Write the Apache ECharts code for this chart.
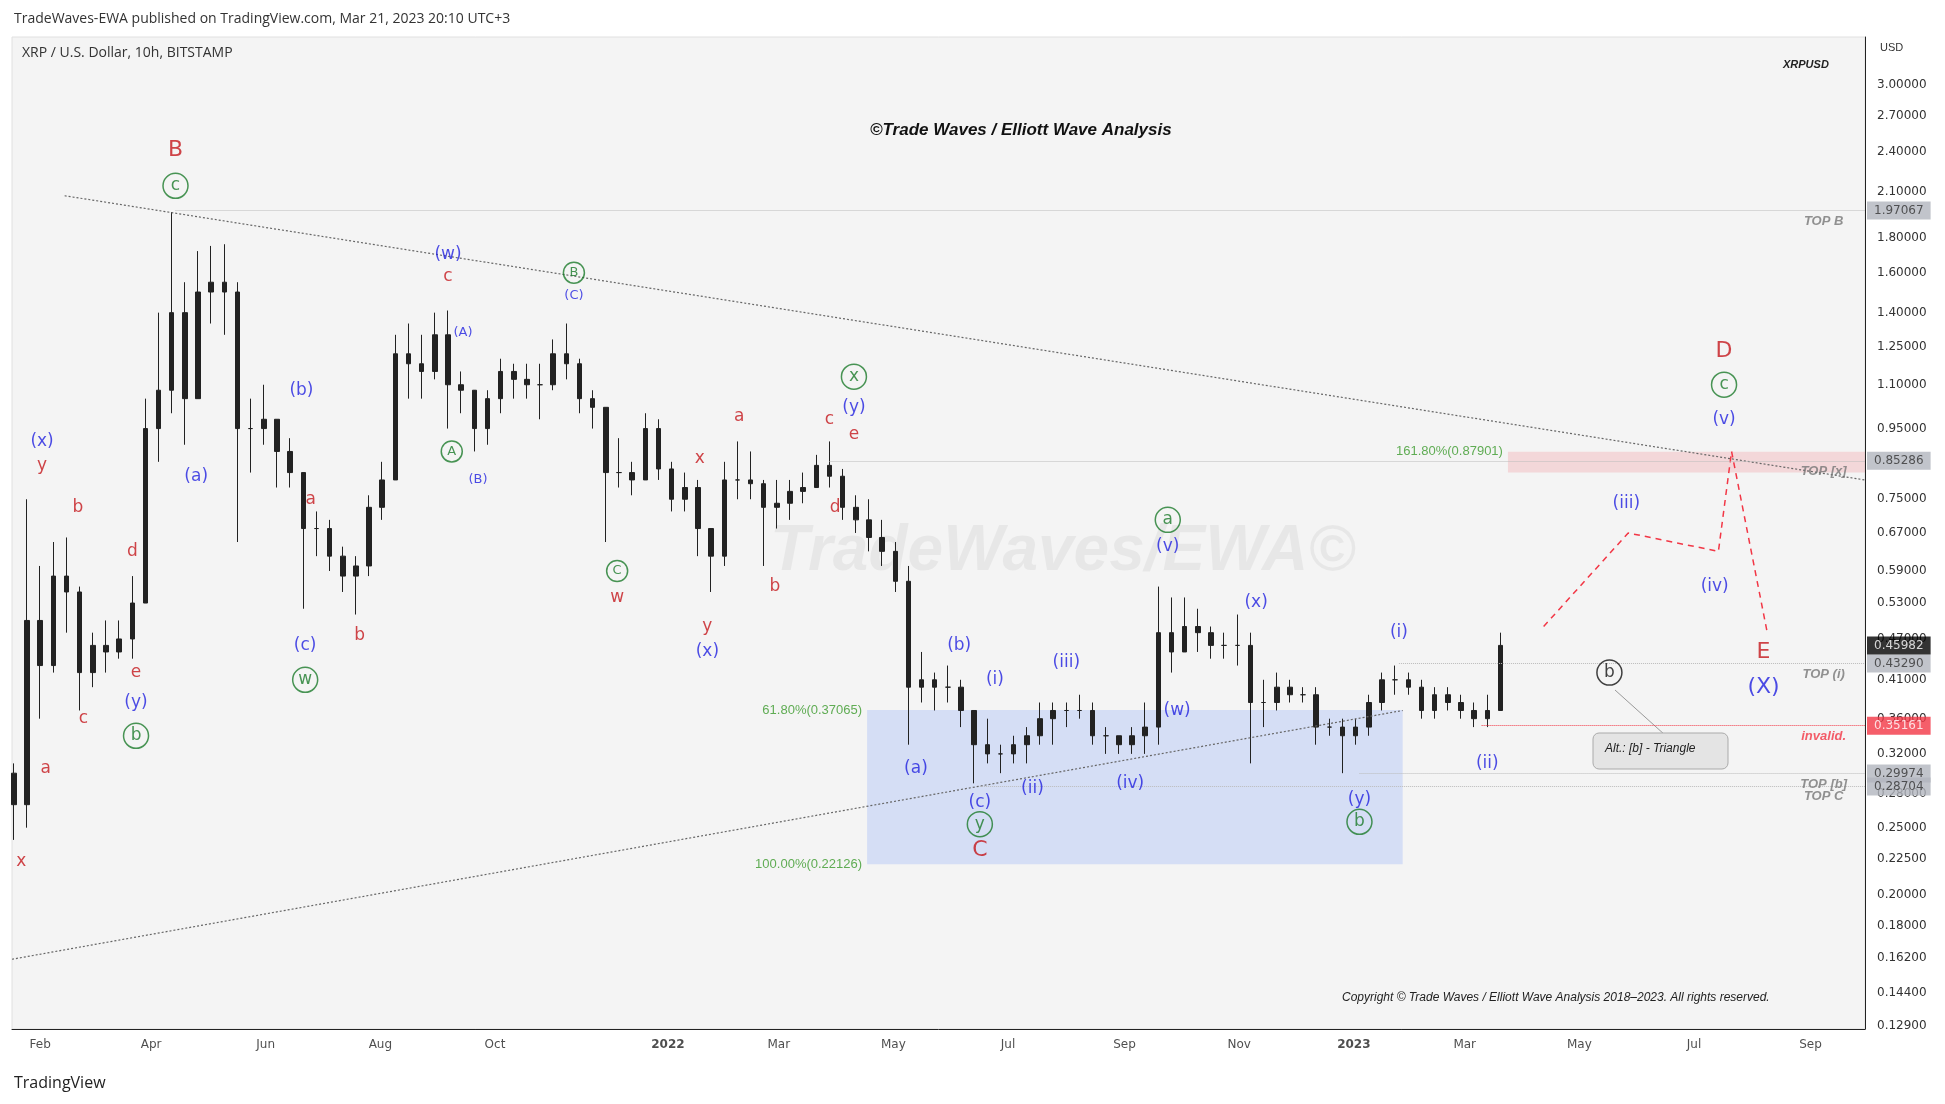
<!DOCTYPE html>
<html><head><meta charset="utf-8">
<script src="https://cdn.jsdelivr.net/npm/echarts@6/dist/echarts.min.js"></script>
<style>html,body{margin:0;padding:0;background:#fff}#c{width:1945px;height:1104px}</style>
</head><body><div id="c"></div>
<script>
// weekly bars (Monday start): [date, close, low, high]; open = previous close
const weeks = [
  ['2021-01-18',0.27,0.24,0.31],['2021-01-25',0.50,0.25,0.75],['2021-02-01',0.43,0.36,0.60],['2021-02-08',0.58,0.42,0.65],
  ['2021-02-15',0.55,0.48,0.66],['2021-02-22',0.42,0.37,0.56],['2021-03-01',0.46,0.40,0.48],['2021-03-08',0.45,0.42,0.50],
  ['2021-03-15',0.47,0.44,0.50],['2021-03-22',0.53,0.44,0.58],['2021-03-29',0.95,0.55,1.05],['2021-04-05',1.08,0.85,1.40],
  ['2021-04-12',1.40,1.00,1.96],['2021-04-19',1.05,0.90,1.55],['2021-04-26',1.50,1.05,1.72],['2021-05-03',1.55,1.35,1.75],
  ['2021-05-10',1.50,1.30,1.76],['2021-05-17',0.95,0.65,1.55],['2021-05-24',0.95,0.82,1.05],['2021-05-31',0.98,0.90,1.10],
  ['2021-06-07',0.88,0.78,0.98],['2021-06-14',0.82,0.78,0.92],['2021-06-21',0.68,0.52,0.82],['2021-06-28',0.68,0.62,0.72],
  ['2021-07-05',0.62,0.59,0.70],['2021-07-12',0.58,0.55,0.64],['2021-07-19',0.60,0.51,0.62],['2021-07-26',0.73,0.58,0.76],
  ['2021-08-02',0.80,0.70,0.85],['2021-08-09',1.22,0.80,1.30],['2021-08-16',1.18,1.05,1.35],['2021-08-23',1.15,1.05,1.30],
  ['2021-08-30',1.30,1.12,1.40],['2021-09-06',1.10,0.95,1.41],['2021-09-13',1.08,1.00,1.15],['2021-09-20',0.95,0.88,1.05],
  ['2021-09-27',1.05,0.90,1.08],['2021-10-04',1.15,1.00,1.20],['2021-10-11',1.12,1.05,1.18],['2021-10-18',1.10,1.05,1.18],
  ['2021-10-25',1.10,0.98,1.18],['2021-11-01',1.22,1.08,1.28],['2021-11-08',1.18,1.12,1.35],['2021-11-15',1.05,1.00,1.20],
  ['2021-11-22',1.02,0.95,1.08],['2021-11-29',0.82,0.65,1.02],['2021-12-06',0.82,0.78,0.92],['2021-12-13',0.80,0.76,0.85],
  ['2021-12-20',0.95,0.80,1.00],['2021-12-27',0.83,0.80,0.98],['2022-01-03',0.75,0.72,0.85],['2022-01-10',0.78,0.72,0.82],
  ['2022-01-17',0.68,0.62,0.80],['2022-01-24',0.62,0.55,0.65],['2022-01-31',0.80,0.60,0.85],['2022-02-07',0.80,0.75,0.91],
  ['2022-02-14',0.79,0.75,0.88],['2022-02-21',0.73,0.60,0.80],['2022-02-28',0.74,0.68,0.80],['2022-03-07',0.77,0.70,0.80],
  ['2022-03-14',0.78,0.74,0.82],['2022-03-21',0.84,0.78,0.87],['2022-03-28',0.81,0.78,0.91],['2022-04-04',0.73,0.70,0.83],
  ['2022-04-11',0.70,0.67,0.76],['2022-04-18',0.66,0.63,0.75],['2022-04-25',0.63,0.60,0.70],['2022-05-02',0.57,0.55,0.65],
  ['2022-05-09',0.40,0.33,0.60],['2022-05-16',0.41,0.38,0.45],['2022-05-23',0.40,0.37,0.42],['2022-05-30',0.40,0.38,0.43],
  ['2022-06-06',0.37,0.35,0.41],['2022-06-13',0.33,0.29,0.37],['2022-06-20',0.32,0.31,0.36],['2022-06-27',0.32,0.30,0.33],
  ['2022-07-04',0.33,0.31,0.34],['2022-07-11',0.34,0.31,0.35],['2022-07-18',0.36,0.33,0.38],['2022-07-25',0.37,0.33,0.38],
  ['2022-08-01',0.37,0.35,0.38],['2022-08-08',0.37,0.36,0.39],['2022-08-15',0.34,0.33,0.38],['2022-08-22',0.34,0.32,0.35],
  ['2022-08-29',0.33,0.32,0.34],['2022-09-05',0.34,0.32,0.35],['2022-09-12',0.35,0.32,0.38],['2022-09-19',0.48,0.33,0.56],
  ['2022-09-26',0.45,0.42,0.54],['2022-10-03',0.49,0.45,0.54],['2022-10-10',0.48,0.45,0.52],['2022-10-17',0.46,0.44,0.49],
  ['2022-10-24',0.46,0.44,0.48],['2022-10-31',0.46,0.43,0.51],['2022-11-07',0.38,0.31,0.48],['2022-11-14',0.38,0.35,0.41],
  ['2022-11-21',0.40,0.37,0.42],['2022-11-28',0.39,0.38,0.41],['2022-12-05',0.39,0.38,0.40],['2022-12-12',0.35,0.33,0.40],
  ['2022-12-19',0.35,0.34,0.36],['2022-12-26',0.34,0.30,0.36],['2023-01-02',0.35,0.33,0.36],['2023-01-09',0.38,0.34,0.39],
  ['2023-01-16',0.41,0.37,0.42],['2023-01-23',0.41,0.39,0.43],['2023-01-30',0.40,0.39,0.42],['2023-02-06',0.37,0.36,0.41],
  ['2023-02-13',0.39,0.36,0.40],['2023-02-20',0.38,0.37,0.40],['2023-02-27',0.37,0.36,0.39],['2023-03-06',0.36,0.35,0.38],
  ['2023-03-13',0.37,0.35,0.39],['2023-03-20',0.46,0.37,0.48]
];
const firstOpen = 0.30;

const yTicks = [3.0,2.7,2.4,2.1,1.8,1.6,1.4,1.25,1.1,0.95,0.75,0.67,0.59,0.53,0.47,0.41,0.36,0.32,0.28,0.25,0.225,0.2,0.18,0.162,0.144,0.129];
const xTicks = ['2021-02-01','2021-04-01','2021-06-01','2021-08-01','2021-10-01','2022-01-01','2022-03-01','2022-05-01','2022-07-01','2022-09-01','2022-11-01','2023-01-01','2023-03-01','2023-05-01','2023-07-01','2023-09-01'];
const xTickText = ['Feb','Apr','Jun','Aug','Oct','2022','Mar','May','Jul','Sep','Nov','2023','Mar','May','Jul','Sep'];
const yMin = 0.1275, yMax = 3.52;

// horizontal levels: [price, start date, tag, tag colour, text colour, line colour]
const levels = [
  [1.97067,'2021-04-14','TOP B','#b2b5be','#333','#bbb'],
  [0.85286,'2022-03-28','TOP [x]','#b2b5be','#333','#bbb'],
  [0.4329,'2023-01-25','TOP (i)','#b2b5be','#333','#bbb'],
  [0.35161,'2023-03-10','invalid.','#f23645','#fff','#f23645'],
  [0.29974,'2023-01-04','TOP [b]','#b2b5be','#333','#bbb'],
  [0.28704,'2022-06-16','TOP C','#b2b5be','#333','#bbb']
];
const lastPrice = 0.45982;

const upperTrend = [['2021-02-14',2.07],['2023-09-30',0.80]];
const lowerTrend = [['2021-01-17',0.161],['2023-01-27',0.37]];
const projection = [['2023-04-12',0.49],['2023-05-27',0.67],['2023-07-14',0.63],['2023-07-21',0.88],['2023-08-09',0.48]];

const fibBox = [['2022-04-17',0.37065],['2023-01-27',0.22126]];
const targetBox = [['2023-03-24',0.87901],['2023-09-30',0.82]];

const R = '#c4161c', U = '#1f1fe0', G = '#1b7a2a', K = '#111';
// [date, price, text, colour, style] style: n normal, c circled, s small, sc small circled, b big
const labels = [
  ['2021-01-22',0.223,'x',R,'n'],['2021-02-02',0.91,'(x)',U,'n'],['2021-02-02',0.84,'y',R,'n'],
  ['2021-02-04',0.305,'a',R,'n'],['2021-02-21',0.73,'b',R,'n'],['2021-02-24',0.36,'c',R,'n'],
  ['2021-03-22',0.63,'d',R,'n'],['2021-03-24',0.42,'e',R,'n'],['2021-03-24',0.38,'(y)',U,'n'],['2021-03-24',0.34,'b',G,'c'],
  ['2021-04-14',2.41,'B',R,'b'],['2021-04-14',2.14,'c',G,'c'],['2021-04-25',0.81,'(a)',U,'n'],
  ['2021-06-20',1.08,'(b)',U,'n'],['2021-06-25',0.75,'a',R,'n'],['2021-06-22',0.46,'(c)',U,'n'],['2021-06-22',0.41,'w',G,'c'],
  ['2021-07-21',0.475,'b',R,'n'],['2021-09-06',1.70,'(w)',U,'n'],['2021-09-06',1.58,'c',R,'n'],
  ['2021-09-08',0.88,'A',G,'sc'],['2021-09-14',1.31,'(A)',U,'s'],['2021-09-22',0.80,'(B)',U,'s'],
  ['2021-11-12',1.60,'B',G,'sc'],['2021-11-12',1.48,'(C)',U,'s'],['2021-12-05',0.59,'C',G,'sc'],['2021-12-05',0.54,'w',R,'n'],
  ['2022-01-18',0.86,'x',R,'n'],['2022-01-22',0.49,'y',R,'n'],['2022-01-22',0.45,'(x)',U,'n'],
  ['2022-02-08',0.99,'a',R,'n'],['2022-02-27',0.56,'b',R,'n'],['2022-03-28',0.98,'c',R,'n'],['2022-03-31',0.73,'d',R,'n'],
  ['2022-04-10',1.13,'x',G,'c'],['2022-04-10',1.02,'(y)',U,'n'],['2022-04-10',0.93,'e',R,'n'],
  ['2022-05-13',0.305,'(a)',U,'n'],['2022-06-05',0.46,'(b)',U,'n'],['2022-06-16',0.272,'(c)',U,'n'],
  ['2022-06-16',0.253,'y',G,'c'],['2022-06-16',0.232,'C',R,'b'],
  ['2022-06-24',0.41,'(i)',U,'n'],['2022-07-14',0.285,'(ii)',U,'n'],['2022-08-01',0.435,'(iii)',U,'n'],['2022-09-04',0.29,'(iv)',U,'n'],
  ['2022-09-24',0.70,'a',G,'c'],['2022-09-24',0.64,'(v)',U,'n'],['2022-09-29',0.37,'(w)',U,'n'],['2022-11-10',0.53,'(x)',U,'n'],
  ['2023-01-04',0.275,'(y)',U,'n'],['2023-01-04',0.255,'b',G,'c'],['2023-01-25',0.48,'(i)',U,'n'],['2023-03-13',0.31,'(ii)',U,'n'],
  ['2023-05-17',0.42,'b',K,'c'],['2023-05-26',0.74,'(iii)',U,'n'],['2023-07-12',0.56,'(iv)',U,'n'],
  ['2023-07-17',1.23,'D',R,'b'],['2023-07-17',1.10,'c',G,'c'],['2023-07-17',0.98,'(v)',U,'n'],
  ['2023-08-07',0.45,'E',R,'b'],['2023-08-07',0.40,'(X)',U,'b']
];

const candles = [];
let prev = firstOpen;
weeks.forEach(w => { candles.push([w[0], prev, w[1], w[2], w[3]]); prev = w[1]; });

const labelData = labels.map(l => {
  const st = l[4];
  const size = st === 'b' ? 22 : (st[0] === 's' ? 13 : 17);
  const circ = st.indexOf('c') >= 0;
  const d = size + 8;
  const lab = {
    show: true, position: 'inside', color: l[3], fontSize: size,
    fontFamily: 'Verdana, DejaVu Sans, sans-serif',
    formatter: circ ? '{c|' + l[2] + '}' : l[2]
  };
  if (circ) lab.rich = { c: { color: l[3], fontSize: size, borderColor: l[3], borderWidth: 1.5, borderRadius: d, width: d, height: d, lineHeight: d, align: 'center' } };
  return { value: [l[0], l[1]], label: lab };
});

const tagFont = 'Verdana, DejaVu Sans, sans-serif';

const chart = echarts.init(document.getElementById('c'));
chart.setOption({
  animation: false,
  backgroundColor: '#fff',
  grid: { left: 12, right: 80, top: 37, bottom: 75, show: true, backgroundColor: '#f4f4f4', borderColor: '#e0e0e0' },
  xAxis: {
    type: 'time', min: '2021-01-17', max: '2023-09-30',
    axisLine: { lineStyle: { color: '#222' } }, axisTick: { show: false }, splitLine: { show: false },
    axisLabel: { show: false }
  },
  yAxis: {
    type: 'log', position: 'right', min: yMin, max: yMax,
    axisLine: { show: true, lineStyle: { color: '#222' } }, axisTick: { show: false }, splitLine: { show: false },
    axisLabel: { customValues: yTicks, formatter: v => v.toFixed(5), color: '#333', fontSize: 12, margin: 12, fontFamily: tagFont }
  },
  series: [
    {
      type: 'candlestick', data: candles, encode: { x: 0, y: [1, 2, 3, 4] },
      barMaxWidth: 5,
      itemStyle: { color: '#222', color0: '#222', borderColor: '#222', borderColor0: '#222', borderWidth: 1 }
    },
    {
      type: 'line', data: [], silent: true,
      markLine: {
        symbol: 'none', silent: true, label: { show: false },
        data: levels.map(l => [
          { coord: [l[1], l[0]], lineStyle: { color: l[5], type: 'dotted', width: 1 } },
          { coord: ['2023-09-30', l[0]] }
        ])
      },
      markArea: {
        silent: true,
        data: [
          [{ coord: fibBox[0], itemStyle: { color: 'rgba(41,98,255,0.15)' } }, { coord: fibBox[1] }],
          [{ coord: targetBox[0], itemStyle: { color: 'rgba(242,54,69,0.15)' } }, { coord: targetBox[1] }]
        ]
      }
    },
    { type: 'line', data: upperTrend, symbol: 'none', lineStyle: { color: '#666', width: 1.2, type: [2, 2] }, silent: true },
    { type: 'line', data: lowerTrend, symbol: 'none', lineStyle: { color: '#666', width: 1.2, type: [2, 2] }, silent: true },
    { type: 'line', data: projection, symbol: 'none', lineStyle: { color: '#f23645', width: 1.5, type: [6, 5] }, silent: true },
    { type: 'scatter', symbolSize: 0, data: labelData, silent: true, z: 5 },
    {
      type: 'scatter', symbolSize: 0, silent: true, z: 5,
      data: [
        { value: [fibBox[0][0], fibBox[0][1]], label: { show: true, position: 'left', formatter: '61.80%(0.37065)', color: '#3a9a2a', fontSize: 13 } },
        { value: [fibBox[0][0], fibBox[1][1]], label: { show: true, position: 'left', formatter: '100.00%(0.22126)', color: '#3a9a2a', fontSize: 13 } },
        { value: [targetBox[0][0], 0.88], label: { show: true, position: 'left', formatter: '161.80%(0.87901)', color: '#3a9a2a', fontSize: 13 } }
      ]
    },
    {
      type: 'scatter', symbolSize: 0, silent: true, z: 6,
      data: levels.map(l => ({ value: ['2023-09-08', l[0]], label: { show: true, position: 'bottom', distance: 4, formatter: l[2], color: l[3] === '#f23645' ? '#f23645' : '#777', fontStyle: 'italic', fontWeight: 'bold', fontSize: 13 } }))
    },
    {
      type: 'scatter', symbolSize: 0, silent: true, z: 10,
      data: levels.map(l => ({ value: ['2023-09-30', l[0]], label: { show: true, position: 'right', distance: 2, formatter: l[0].toFixed(5), backgroundColor: l[3], color: l[4], padding: [3, 7], fontSize: 12, fontFamily: tagFont } }))
        .concat([{ value: ['2023-09-30', lastPrice], label: { show: true, position: 'right', distance: 2, formatter: lastPrice.toFixed(5), backgroundColor: '#000', color: '#fff', padding: [3, 7], fontSize: 12, fontFamily: tagFont } }])
    },
    {
      // x axis tick labels, anchored to the bottom of the price scale
      type: 'scatter', symbolSize: 0, silent: true, z: 10,
      data: xTicks.map((d, i) => ({ value: [d, yMin], label: { show: true, position: 'bottom', distance: 10, formatter: xTickText[i], color: '#222', fontSize: 12, fontFamily: tagFont, fontWeight: i === 5 || i === 11 ? 'bold' : 'normal' } }))
    }
  ],
  graphic: [
    { type: 'text', left: 14, top: 12, style: { text: 'TradeWaves-EWA published on TradingView.com, Mar 21, 2023 20:10 UTC+3', fill: '#333', font: '14px "Open Sans", sans-serif' } },
    { type: 'text', left: 22, top: 46, style: { text: 'XRP / U.S. Dollar, 10h, BITSTAMP', fill: '#333', font: '14px "Open Sans", sans-serif' } },
    { type: 'text', left: 1880, top: 42, style: { text: 'USD', fill: '#333', font: '11px Verdana, sans-serif' } },
    { type: 'text', left: 1783, top: 59, style: { text: 'XRPUSD', fill: '#222', font: 'italic bold 11px Verdana, sans-serif' } },
    { type: 'text', left: 870, top: 122, style: { text: '©Trade Waves / Elliott Wave Analysis', fill: '#111', font: 'italic bold 17px Verdana, sans-serif' } },
    { type: 'text', left: 770, top: 520, style: { text: 'TradeWaves/EWA©', fill: 'rgba(0,0,0,0.05)', font: 'italic bold 64px Verdana, sans-serif' } },
    { type: 'text', left: 1342, top: 992, style: { text: 'Copyright © Trade Waves / Elliott Wave Analysis 2018–2023. All rights reserved.', fill: '#222', font: 'italic 12px Verdana, sans-serif' } },
    { type: 'line', shape: { x1: 1615, y1: 690, x2: 1665, y2: 735 }, style: { stroke: '#999', lineWidth: 1 } },
    { type: 'rect', shape: { x: 1593, y: 733, width: 135, height: 36, r: 6 }, style: { fill: '#e4e4e4', stroke: '#aaa' } },
    { type: 'text', left: 1605, top: 743, style: { text: 'Alt.: [b] - Triangle', fill: '#222', font: 'italic 12px Verdana, sans-serif' } },
    { type: 'text', left: 14, top: 1075, style: { text: 'TradingView', fill: '#222', font: '16px "Open Sans", sans-serif' } }
  ]
});
</script></body></html>
